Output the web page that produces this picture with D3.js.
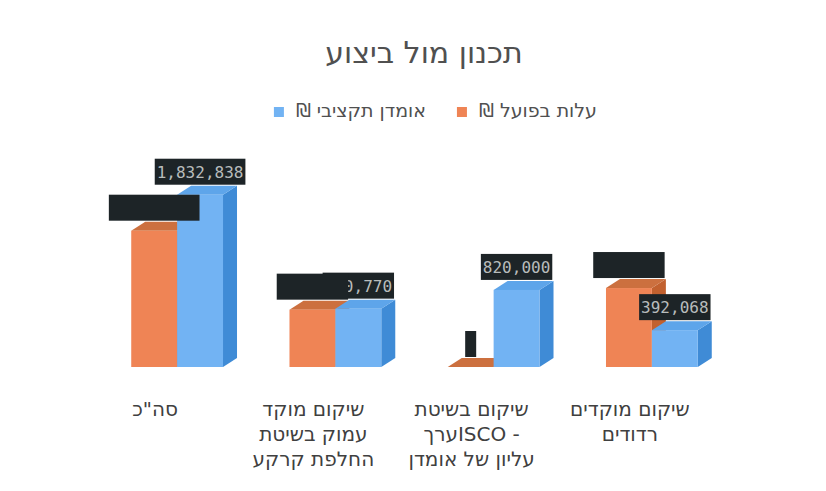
<!DOCTYPE html>
<html>
<head>
<meta charset="utf-8">
<script src="https://cdn.jsdelivr.net/npm/d3@7/dist/d3.min.js"></script>
<style>
  body { margin: 0; background: #fff; }
  svg text { font-family: "DejaVu Sans", sans-serif; }
</style>
</head>
<body>
<div id="chart"></div>
<script>
// data, in the chart's own order (right to left on screen)
const categories = ['shallow', 'isco', 'deep', 'total']
const categoryLines = [
  ['שיקום מוקדים', 'רדודים'],
  ['שיקום בשיטת', '- ISCOערך', 'עליון של אומדן'],
  ['שיקום מוקד', 'עמוק בשיטת', 'החלפת קרקע'],
  ['סה"כ']
]
const seriesNames = ['עלות בפועל ₪', 'אומדן תקציבי ₪']
const actualCost = [840000, 0, 610000, 1450000]       // labels blacked out in the source
const budgetEstimate = [392068, 820000, 620770, 1832838]
const labelVisible = [false, true]

const W = 826, H = 491
const base = 367
const depth = {x: 14, y: -9}

const colors = [
  {front: '#ef8455', top: '#cc703f', side: '#c2612f'},
  {front: '#72b3f3', top: '#5ea5ea', side: '#3f8bd6'}
]

const svg = d3.select('#chart').append('svg')
  .attr('width', W)
  .attr('height', H)

// title
svg.append('text')
  .attr('x', 424)
  .attr('y', 63)
  .attr('text-anchor', 'middle')
  .attr('direction', 'rtl')
  .attr('font-size', 30)
  .attr('fill', '#505050')
  .text('תכנון מול ביצוע')

// scales
const x0 = d3.scaleBand()
  .domain(categories)
  .range([731, 98])
  .paddingInner(0.42)
  .paddingOuter(0.21)

const x1 = d3.scaleBand()
  .domain([0, 1])
  .range([0, x0.bandwidth()])

const y = d3.scaleLinear()
  .domain([0, 2000000])
  .range([base, 179])

const dataBySeries = [actualCost, budgetEstimate]

// 3D bars
categories.forEach((c, ci) => {
  dataBySeries.forEach((vals, si) => {
    const x = x0(c) + x1(si)
    const w = x1.bandwidth()
    const yt = y(vals[ci])
    const g = svg.append('g')
    const dx = depth.x, dy = depth.y
    // side
    g.append('path')
      .attr('d', `M${x + w},${yt}L${x + w + dx},${yt + dy}L${x + w + dx},${base + dy}L${x + w},${base}Z`)
      .attr('fill', colors[si].side)
    // top
    g.append('path')
      .attr('d', `M${x},${yt}L${x + dx},${yt + dy}L${x + w + dx},${yt + dy}L${x + w},${yt}Z`)
      .attr('fill', colors[si].top)
    // front
    g.append('rect')
      .attr('x', x)
      .attr('y', yt)
      .attr('width', w)
      .attr('height', base - yt)
      .attr('fill', colors[si].front)
  })
})

// data labels (blue first, orange drawn over them)
const fmt = d3.format(',')
;[1, 0].forEach(si => {
  categories.forEach((c, ci) => {
    const v = dataBySeries[si][ci]
    const cx = x0(c) + x1(si) + x1.bandwidth() / 2
    const yt = y(v)
    const str = fmt(v)
    const bw = v === 0 ? 11 : str.length * 9.63 + 4
    const bh = 26
    svg.append('rect')
      .attr('x', cx - bw / 2)
      .attr('y', yt - 10 - bh)
      .attr('width', bw)
      .attr('height', bh)
      .attr('fill', '#1d2427')
    if (labelVisible[si]) {
      svg.append('text')
        .attr('x', cx)
        .attr('y', yt - 10 - bh / 2 + 6)
        .attr('text-anchor', 'middle')
        .attr('font-size', 16)
        .style('font-family', '"DejaVu Sans Mono", monospace')
        .attr('fill', '#b8bcbc')
        .text(str)
    }
  })
})

// category labels
categories.forEach((c, ci) => {
  const cx = x0(c) + x0.bandwidth() / 2 - 22
  const t = svg.append('text')
    .attr('text-anchor', 'middle')
    .attr('direction', 'rtl')
    .attr('font-size', 20)
    .attr('fill', '#404040')
  categoryLines[ci].forEach((line, li) => {
    t.append('tspan')
      .attr('x', cx)
      .attr('y', 416 + li * 25)
      .text(line)
  })
})

// legend, laid out right to left: square sits left of its text
let right = 597
seriesNames.forEach((name, si) => {
  const t = svg.append('text')
    .attr('y', 117)
    .attr('text-anchor', 'middle')
    .attr('direction', 'rtl')
    .attr('font-size', 19)
    .attr('fill', '#505050')
    .text(name)
  const tw = t.node().getComputedTextLength()
  t.attr('x', right - tw / 2)
  const sx = right - tw - 12 - 10
  svg.append('rect')
    .attr('x', sx)
    .attr('y', 107)
    .attr('width', 10)
    .attr('height', 10)
    .attr('fill', colors[si].front)
  right = sx - 31
})
</script>
</body>
</html>
